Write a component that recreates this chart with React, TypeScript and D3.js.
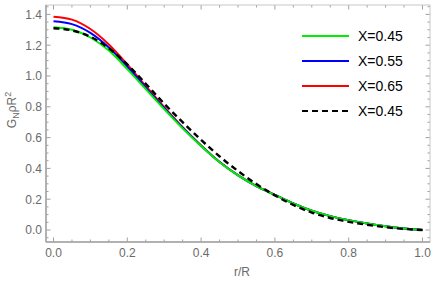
import React from 'react';
import * as d3 from 'd3';

const rValues = [0, 0.05, 0.1, 0.15, 0.2, 0.25, 0.3, 0.35, 0.4, 0.45, 0.5, 0.55, 0.6, 0.65, 0.7, 0.75, 0.8, 0.85, 0.9, 0.95, 1.0];

const green045 = [1.316, 1.3, 1.25, 1.165, 1.045, 0.915, 0.785, 0.66, 0.545, 0.44, 0.355, 0.285, 0.228, 0.172, 0.125, 0.09, 0.064, 0.042, 0.024, 0.01, 0.0];
const blue055 = [1.355, 1.337, 1.28, 1.185, 1.06, 0.925, 0.792, 0.664, 0.547, 0.441, 0.355, 0.285, 0.228, 0.172, 0.125, 0.09, 0.064, 0.042, 0.024, 0.01, 0.0];
const red065 = [1.385, 1.366, 1.305, 1.205, 1.075, 0.935, 0.798, 0.668, 0.549, 0.442, 0.356, 0.285, 0.228, 0.172, 0.125, 0.09, 0.064, 0.042, 0.024, 0.01, 0.0];
const dashed045 = [1.31, 1.296, 1.255, 1.18, 1.075, 0.95, 0.82, 0.7, 0.585, 0.478, 0.383, 0.298, 0.225, 0.163, 0.113, 0.078, 0.053, 0.034, 0.018, 0.007, 0.0];

const legendLabels = ['X=0.45', 'X=0.55', 'X=0.65', 'X=0.45'];
const xTicks = [0, 0.2, 0.4, 0.6, 0.8, 1.0];
const yTicks = [0, 0.2, 0.4, 0.6, 0.8, 1.0, 1.2, 1.4];

const width = 436;
const height = 282;
const frame = { left: 46, right: 430, top: 5, bottom: 242 };

export default function App() {
  const x = d3.scaleLinear().domain([0, 1]).range([53.5, 422.5]);
  const y = d3.scaleLinear().domain([0, 1.4]).range([230, 14.4]);

  const line = d3.line<number>()
    .x((_, i) => x(rValues[i]))
    .y(d => y(d))
    .curve(d3.curveMonotoneX);

  // draw order: red, blue, green, then the dashed one on top
  const series = [
    { values: red065, color: '#ff0000', dash: undefined, width: 2 },
    { values: blue055, color: '#0000ff', dash: undefined, width: 2 },
    { values: green045, color: '#00ee00', dash: undefined, width: 2 },
    { values: dashed045, color: '#000000', dash: '6,4', width: 2.4 },
  ];
  const legend = [
    { label: legendLabels[0], color: '#00ee00', dash: undefined },
    { label: legendLabels[1], color: '#0000ff', dash: undefined },
    { label: legendLabels[2], color: '#ff0000', dash: undefined },
    { label: legendLabels[3], color: '#000000', dash: '6,4' },
  ];

  const xMinor = d3.range(0, 21).map(i => i * 0.05).filter(v => !xTicks.some(t => Math.abs(t - v) < 1e-6));
  const yMinor = d3.range(-1, 30).map(i => i * 0.05).filter(v => !yTicks.some(t => Math.abs(t - v) < 1e-6));

  const frameColor = '#a0a0a0';
  const textColor = '#6a6a6a';
  const font = 'Liberation Sans, Arial, sans-serif';

  return (
    <svg width={width} height={height} style={{ position: 'absolute', left: 0, top: 0, background: '#fff' }}>
      <defs>
        <clipPath id="plot">
          <rect x={frame.left} y={frame.top} width={frame.right - frame.left} height={frame.bottom - frame.top} />
        </clipPath>
      </defs>

      {/* frame ticks */}
      <g stroke={frameColor} strokeWidth={1}>
        {xTicks.map(t => (
          <g key={'xt' + t}>
            <line x1={x(t)} x2={x(t)} y1={frame.bottom} y2={frame.bottom - 4.5} />
            <line x1={x(t)} x2={x(t)} y1={frame.top} y2={frame.top + 4.5} />
          </g>
        ))}
        {xMinor.map(t => (
          <g key={'xm' + t}>
            <line x1={x(t)} x2={x(t)} y1={frame.bottom} y2={frame.bottom - 2.5} />
            <line x1={x(t)} x2={x(t)} y1={frame.top} y2={frame.top + 2.5} />
          </g>
        ))}
        {yTicks.map(t => (
          <g key={'yt' + t}>
            <line x1={frame.left} x2={frame.left + 4.5} y1={y(t)} y2={y(t)} />
            <line x1={frame.right} x2={frame.right - 4.5} y1={y(t)} y2={y(t)} />
          </g>
        ))}
        {yMinor.map(t => (
          <g key={'ym' + t}>
            <line x1={frame.left} x2={frame.left + 2.5} y1={y(t)} y2={y(t)} />
            <line x1={frame.right} x2={frame.right - 2.5} y1={y(t)} y2={y(t)} />
          </g>
        ))}
      </g>

      {/* curves */}
      <g clipPath="url(#plot)" fill="none">
        {series.map((s, i) => (
          <path key={i} d={line(s.values) ?? ''} stroke={s.color} strokeWidth={s.width}
            strokeDasharray={s.dash} strokeLinejoin="round" />
        ))}
      </g>

      {/* frame */}
      <rect x={frame.left} y={frame.top} width={frame.right - frame.left} height={frame.bottom - frame.top}
        fill="none" stroke="#c8c8c8" strokeWidth={1} />
      <line x1={frame.left} x2={frame.left} y1={frame.top} y2={frame.bottom} stroke={frameColor} strokeWidth={1.5} />
      <line x1={frame.left} x2={frame.right} y1={frame.bottom} y2={frame.bottom} stroke={frameColor} strokeWidth={1.5} />

      {/* tick labels */}
      <g fill={textColor} fontFamily={font} fontSize={12}>
        {xTicks.map(t => (
          <text key={'xl' + t} x={x(t)} y={257} textAnchor="middle">{t.toFixed(1)}</text>
        ))}
        {yTicks.map(t => (
          <text key={'yl' + t} x={42} y={y(t) + 4.3} textAnchor="end">{t.toFixed(1)}</text>
        ))}
      </g>

      {/* axis labels */}
      <text x={(frame.left + frame.right) / 2 + 4} y={276} textAnchor="middle" fill={textColor}
        fontFamily={font} fontSize={12}>r/R</text>
      <text transform="translate(15.5,110) rotate(-90)" textAnchor="middle" fill={textColor}
        fontFamily={font} fontSize={12}>
        G<tspan fontSize={9} dy={3}>N</tspan><tspan dy={-3}>ρR</tspan><tspan fontSize={9} dy={-5}>2</tspan>
      </text>

      {/* legend */}
      <g fontFamily={font} fontSize={14} fill="#000">
        {legend.map((l, i) => {
          const ly = 36 + i * 25;
          return (
            <g key={i}>
              <line x1={302} x2={349} y1={ly} y2={ly} stroke={l.color} strokeWidth={2} strokeDasharray={l.dash} />
              <text x={358} y={ly + 5}>{l.label}</text>
            </g>
          );
        })}
      </g>
    </svg>
  );
}
